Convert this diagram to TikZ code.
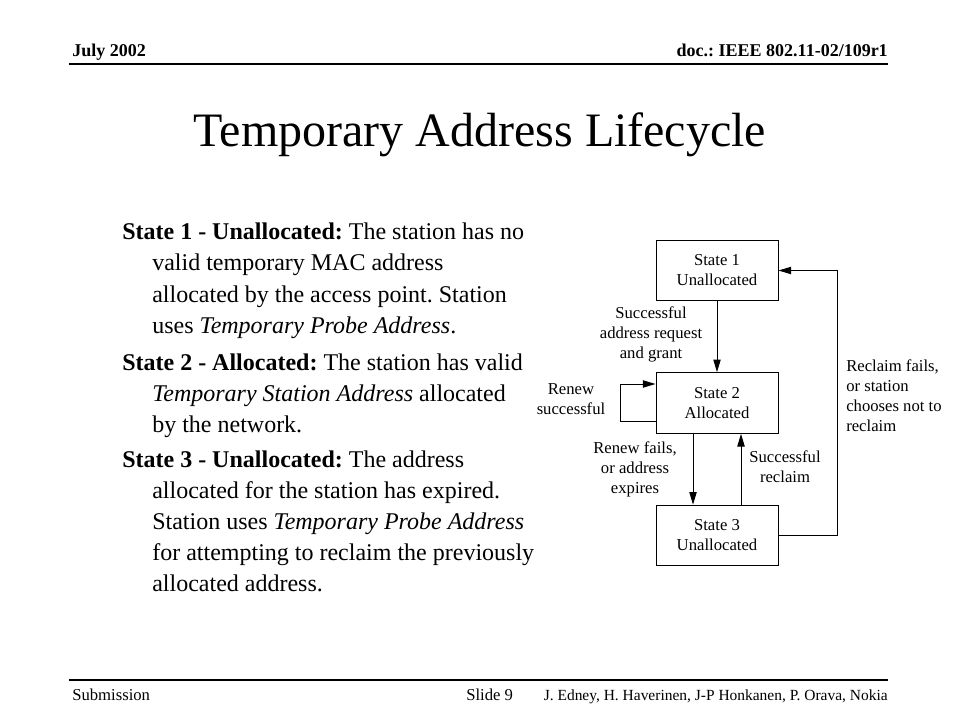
\documentclass[tikz,border=0pt]{standalone}
\usepackage{fontspec}
\setmainfont{Liberation Serif}
\usetikzlibrary{arrows.meta}
\begin{document}
\frenchspacing
\begin{tikzpicture}[x=0.75pt,y=-0.75pt,
  stbox/.style={draw,line width=0.75pt,minimum width=91.5pt,minimum height=45.5pt,inner sep=0pt,align=center,font=\fontsize{12.5}{15}\selectfont},
  lab/.style={inner sep=0pt,align=center,font=\fontsize{12.5}{15}\selectfont},
  arr/.style={-{Triangle[length=9.5pt,width=5.5pt]},line width=0.75pt},
  hdr/.style={inner sep=0pt,font=\fontsize{13.5}{16}\selectfont\bfseries},
  ftr/.style={inner sep=0pt,font=\fontsize{12.5}{15}\selectfont},
  body/.style={inner sep=0pt,anchor=base west,font=\fontsize{18}{23}\selectfont},
  rule/.style={line width=1.1pt}]
\fill[white] (0,0) rectangle (960,720);
\useasboundingbox (0,0) rectangle (960,720);
% header
\node[hdr,anchor=base west] (hl) at (72,57) {July 2002};
\node[hdr,anchor=base east] (hr) at (888,57) {doc.: IEEE 802.11-02/109r1};
\draw[rule] (69,64) -- (888,64);
% title
\node[inner sep=0pt,anchor=base,font=\fontsize{36}{40}\selectfont] (title) at (480,147) {Temporary Address Lifecycle};
% body
\node[body] (b1) at (122,240) {\textbf{State 1 - Unallocated:} The station has no};
\node[body] (b2) at (152,271) {valid temporary MAC address};
\node[body] (b3) at (152,302) {allocated by the access point. Station};
\node[body] (b4) at (152,333) {uses \textit{Temporary Probe Address}.};
\node[body] (b5) at (122,370) {\textbf{State 2 - Allocated:} The station has valid};
\node[body] (b6) at (152,401) {\textit{Temporary Station Address} allocated};
\node[body] (b7) at (152,432) {by the network.};
\node[body] (b8) at (122,467) {\textbf{State 3 - Unallocated:} The address};
\node[body] (b9) at (152,498) {allocated for the station has expired.};
\node[body] (b10) at (152,529) {Station uses \textit{Temporary Probe Address}};
\node[body] (b11) at (152,560) {for attempting to reclaim the previously};
\node[body] (b12) at (152,591) {allocated address.};
% diagram
\node[stbox] (s1) at (717,270.5) {State 1\\Unallocated};
\node[stbox] (s2) at (717,403) {State 2\\Allocated};
\node[stbox] (s3) at (717,535.5) {State 3\\Unallocated};
\coordinate (rc) at (837,400);
\draw[arr] (s1.south) -- (s2.north);
\draw[arr] ([xshift=-18pt]s2.south) -- ([xshift=-18pt]s3.north);
\draw[arr] ([xshift=18pt]s3.north) -- ([xshift=18pt]s2.south);
\draw[arr] ([yshift=-13.5pt]s2.west) -- ++(-35,0) |- ([yshift=14.25pt]s2.west);
\draw[arr] (s3.east) -- (s3.east -| rc) -- (s1.east -| rc) -- (s1.east);
\node[lab] (l12) at (651,334.5) {Successful\\address request\\and grant};
\node[lab] (lrn) at (571,399.5) {Renew\\successful};
\node[lab] (lfl) at (635,469) {Renew fails,\\or address\\expires};
\node[lab] (lrc) at (785,467) {Successful\\reclaim};
\node[lab,align=left,anchor=west] (lbg) at (846,396) {Reclaim fails,\\or station\\chooses not to\\reclaim};
% footer
\draw[rule] (69,680) -- (888,680);
\node[ftr,anchor=base west] (fs) at (72,700) {Submission};
\node[ftr,anchor=base west] (fn) at (466,700) {Slide 9};
\node[inner sep=0pt,anchor=base east,font=\fontsize{11.6}{14}\selectfont] (fa) at (888,700) {J. Edney, H. Haverinen, J-P Honkanen, P. Orava, Nokia};
\end{tikzpicture}
\end{document}
